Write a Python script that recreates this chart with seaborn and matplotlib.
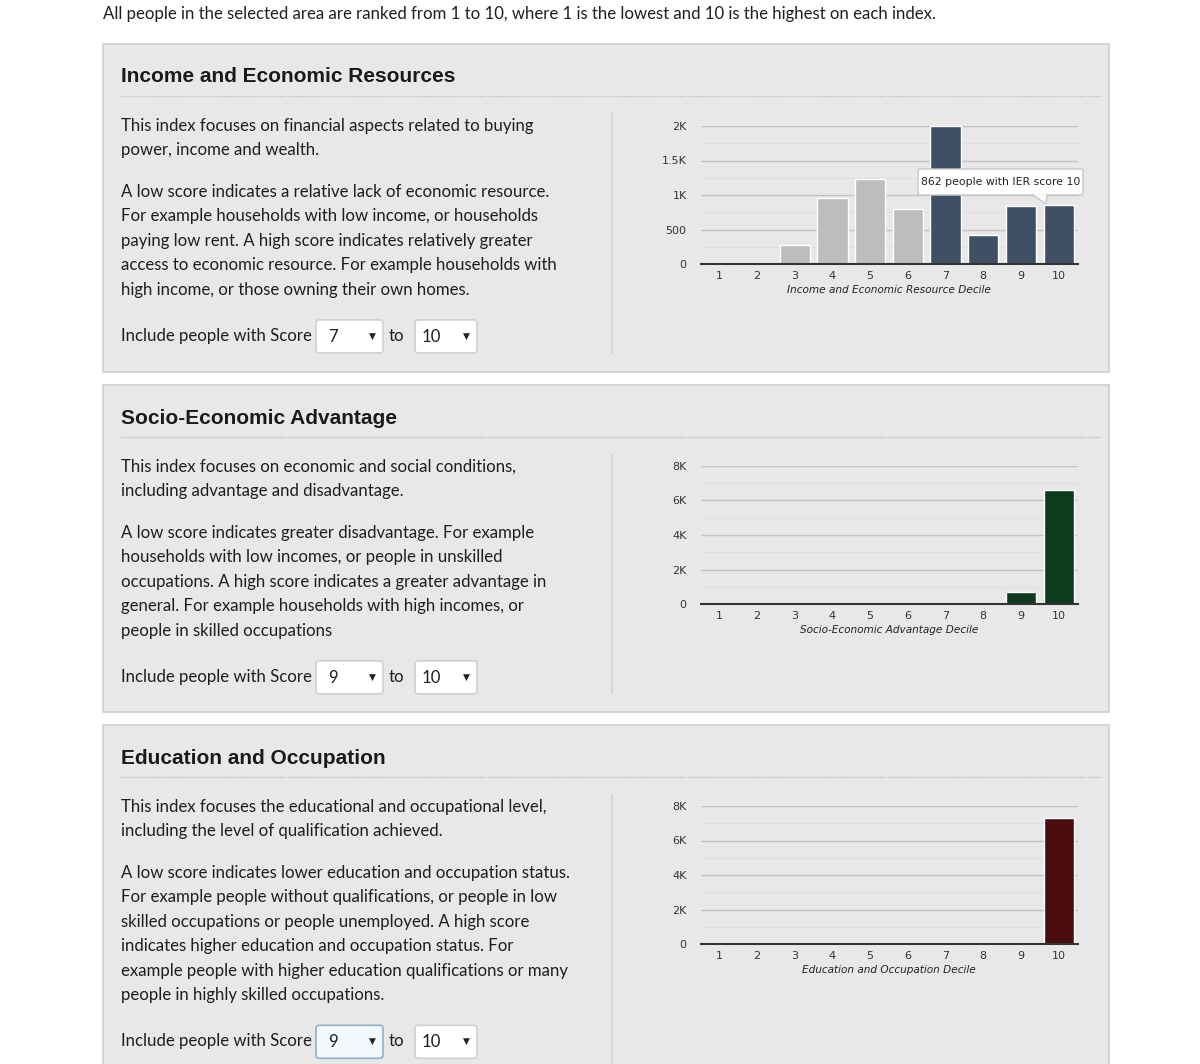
import matplotlib
matplotlib.use("Agg")
import matplotlib.pyplot as plt
from matplotlib.patches import Rectangle, FancyBboxPatch, Polygon
import seaborn as sns
import pandas as pd

# ---------------- data ----------------
deciles = ["1", "2", "3", "4", "5", "6", "7", "8", "9", "10"]
ier_counts = [0, 0, 280, 950, 1225, 800, 1995, 420, 843, 862]
iera_counts = [0, 0, 0, 0, 0, 0, 0, 0, 713, 6630]
ieo_counts = [0, 0, 0, 0, 0, 0, 0, 0, 0, 7305]

ier_ticks = [0, 500, 1000, 1500, 2000]
ier_ticklabels = ["0", "500", "1K", "1.5K", "2K"]
k8_ticks = [0, 2000, 4000, 6000, 8000]
k8_ticklabels = ["0", "2K", "4K", "6K", "8K"]

titles = ["Income and Economic Resources", "Socio-Economic Advantage", "Education and Occupation"]
xlabels = ["Income and Economic Resource Decile", "Socio-Economic Advantage Decile",
           "Education and Occupation Decile"]
selected_from = [7, 9, 9]
selected_to = [10, 10, 10]
sel_colors = ["#3f5065", "#0e3a1d", "#4a0c0d"]
unsel_color = "#bdbdbd"

intro = "All people in the selected area are ranked from 1 to 10, where 1 is the lowest and 10 is the highest on each index."
paragraphs = [
    [["This index focuses on financial aspects related to buying", "power, income and wealth."],
     ["A low score indicates a relative lack of economic resource.",
      "For example households with low income, or households",
      "paying low rent. A high score indicates relatively greater",
      "access to economic resource. For example households with",
      "high income, or those owning their own homes."]],
    [["This index focuses on economic and social conditions,", "including advantage and disadvantage."],
     ["A low score indicates greater disadvantage. For example",
      "households with low incomes, or people in unskilled",
      "occupations. A high score indicates a greater advantage in",
      "general. For example households with high incomes, or",
      "people in skilled occupations"]],
    [["This index focuses the educational and occupational level,", "including the level of qualification achieved."],
     ["A low score indicates lower education and occupation status.",
      "For example people without qualifications, or people in low",
      "skilled occupations or people unemployed. A high score",
      "indicates higher education and occupation status. For",
      "example people with higher education qualifications or many",
      "people in highly skilled occupations."]],
]
tooltip_text = "862 people with IER score 10"

# ---------------- figure ----------------
sns.set_theme(style="white")
W, H = 1200, 1064
fig = plt.figure(figsize=(W / 100, H / 100), dpi=100)
fig.patch.set_facecolor("white")

bg = fig.add_axes([0, 0, 1, 1])
bg.set_xlim(0, W)
bg.set_ylim(H, 0)
bg.axis("off")

BODY_FONT = ["Lato", "DejaVu Sans"]
TITLE_FONT = ["Liberation Sans", "DejaVu Sans"]
TICK_FONT = ["DejaVu Sans"]
BODY_SIZE = 12.1

bg.text(103, 14, intro, fontsize=12.1, family=BODY_FONT, color="#1e1e1e", va="center", ha="left")

panel_tops = [44, 385, 725]
panel_bottoms = [372, 712, 1075]


def px_rect(x0, y0, x1, y1):
    return [x0 / W, 1 - y1 / H, (x1 - x0) / W, (y1 - y0) / H]


for i in range(3):
    top = panel_tops[i]
    bot = panel_bottoms[i]
    off = top - 44
    # panel box
    bg.add_patch(Rectangle((103, top), 1006, bot - top, facecolor="#e8e8e8",
                           edgecolor="#d2d2d2", linewidth=1.3, zorder=1))
    # title
    bg.text(121, 77 + off, titles[i], fontsize=15, fontweight="bold", family=TITLE_FONT,
            color="#1a1a1a", va="center", ha="left", zorder=3)
    bg.plot([121, 1102], [96 + off, 96 + off], color="#bdbdbd", linewidth=1, linestyle=(0, (1, 1)), zorder=3)
    # separator
    sep_end = 353 + off if i < 2 else H
    bg.plot([612, 612], [113 + off, sep_end], color="#d2d2d2", linewidth=1.2, zorder=3)
    # paragraphs
    y = 126 + off
    for p, para in enumerate(paragraphs[i]):
        for line in para:
            bg.text(121, y, line, fontsize=BODY_SIZE, family=BODY_FONT, color="#1e1e1e",
                    va="center", ha="left", zorder=3)
            y += 24.4
        y += 17.3
    # dropdown row
    yrow = y + 4.5
    bg.text(121, yrow, "Include people with Score", fontsize=BODY_SIZE, family=BODY_FONT,
            color="#1e1e1e", va="center", ha="left", zorder=3)
    focused = (i == 2)
    bg.add_patch(FancyBboxPatch((316, yrow - 16), 67, 33, boxstyle="round,pad=0,rounding_size=3",
                                facecolor="#f3f8fc" if focused else "white",
                                edgecolor="#8fb0cc" if focused else "#d0d0d0", linewidth=1.2, zorder=3))
    bg.text(328, yrow + 1, str(selected_from[i]), fontsize=BODY_SIZE, family=BODY_FONT, color="#1e1e1e",
            va="center", ha="left", zorder=4)
    bg.text(372, yrow, "\u25BC", fontsize=6.5, family=["DejaVu Sans"], color="#222222",
            va="center", ha="center", zorder=4)
    bg.text(389, yrow, "to", fontsize=BODY_SIZE, family=BODY_FONT, color="#1e1e1e",
            va="center", ha="left", zorder=3)
    bg.add_patch(FancyBboxPatch((415, yrow - 16), 62, 33, boxstyle="round,pad=0,rounding_size=3",
                                facecolor="white", edgecolor="#d0d0d0", linewidth=1.2, zorder=3))
    bg.text(422, yrow + 1, str(selected_to[i]), fontsize=BODY_SIZE, family=BODY_FONT, color="#1e1e1e",
            va="center", ha="left", zorder=4)
    bg.text(466, yrow, "\u25BC", fontsize=6.5, family=["DejaVu Sans"], color="#222222",
            va="center", ha="center", zorder=4)

# ---------------- charts ----------------
all_counts = [ier_counts, iera_counts, ieo_counts]
all_ticks = [ier_ticks, k8_ticks, k8_ticks]
all_ticklabels = [ier_ticklabels, k8_ticklabels, k8_ticklabels]
zero_y = [264, 604, 944]
top_y = [126, 466, 806]
TICK_SIZE = 8.0

for i in range(3):
    ax = fig.add_axes(px_rect(700.5, top_y[i], 1077.5, zero_y[i]))
    ax.set_facecolor("none")
    df = pd.DataFrame({"decile": deciles, "count": all_counts[i]})
    pal = {d: (sel_colors[i] if selected_from[i] <= int(d) <= selected_to[i] else unsel_color)
           for d in deciles}
    sns.barplot(data=df, x="decile", y="count", hue="decile", palette=pal, legend=False,
                width=0.8, edgecolor="white", linewidth=1.0, saturation=1, ax=ax, zorder=3)
    for b in ax.patches:
        b.set_clip_on(False)
    ticks = all_ticks[i]
    ax.set_ylim(ticks[0], ticks[-1])
    ax.set_xlim(-0.5, 9.5)
    ax.set_yticks(ticks)
    ax.set_yticklabels(all_ticklabels[i], family=TICK_FONT, fontsize=TICK_SIZE, color="#333333")
    ax.set_xticks(range(10))
    ax.set_xticklabels(deciles, family=TICK_FONT, fontsize=TICK_SIZE, color="#333333")
    ax.tick_params(axis="x", length=0, pad=5)
    ax.tick_params(axis="y", length=0, pad=10)
    # gridlines: major and minor
    step = ticks[1] - ticks[0]
    for t in ticks[1:]:
        ax.axhline(t, color="#c4c4c4", linewidth=1.0, zorder=1)
        ax.axhline(t - step / 2, color="#dedede", linewidth=0.8, zorder=1)
    for s in ["top", "right", "left"]:
        ax.spines[s].set_visible(False)
    ax.spines["bottom"].set_color("#333333")
    ax.spines["bottom"].set_linewidth(1.5)
    ax.spines["bottom"].set_zorder(4)
    ax.set_xlabel(xlabels[i], family=["DejaVu Sans"], fontsize=7.6, style="italic",
                  color="#222222", labelpad=3)
    ax.set_ylabel("")

# tooltip overlay on first chart
ov = fig.add_axes([0, 0, 1, 1])
ov.set_xlim(0, W)
ov.set_ylim(H, 0)
ov.axis("off")
ov.patch.set_alpha(0)
tx0, ty0, tx1, ty1 = 918, 169, 1083, 195
ov.add_patch(FancyBboxPatch((tx0, ty0), tx1 - tx0, ty1 - ty0, boxstyle="round,pad=0,rounding_size=2",
                            facecolor="white", edgecolor="#c8c8c8", linewidth=1.0, zorder=10))
ov.add_patch(Polygon([[1033, ty1 - 0.6], [1046, 204], [1047, ty1 - 0.6]], closed=True,
                     facecolor="white", edgecolor="none", zorder=11))
ov.plot([1033, 1046, 1047], [ty1, 204, ty1], color="#c8c8c8", linewidth=1.0, zorder=11)
ov.text((tx0 + tx1) / 2, (ty0 + ty1) / 2, tooltip_text, fontsize=7.8, family=["DejaVu Sans"],
        color="#222222", ha="center", va="center", zorder=12)

fig.savefig("out.png", dpi=100, facecolor="white")
